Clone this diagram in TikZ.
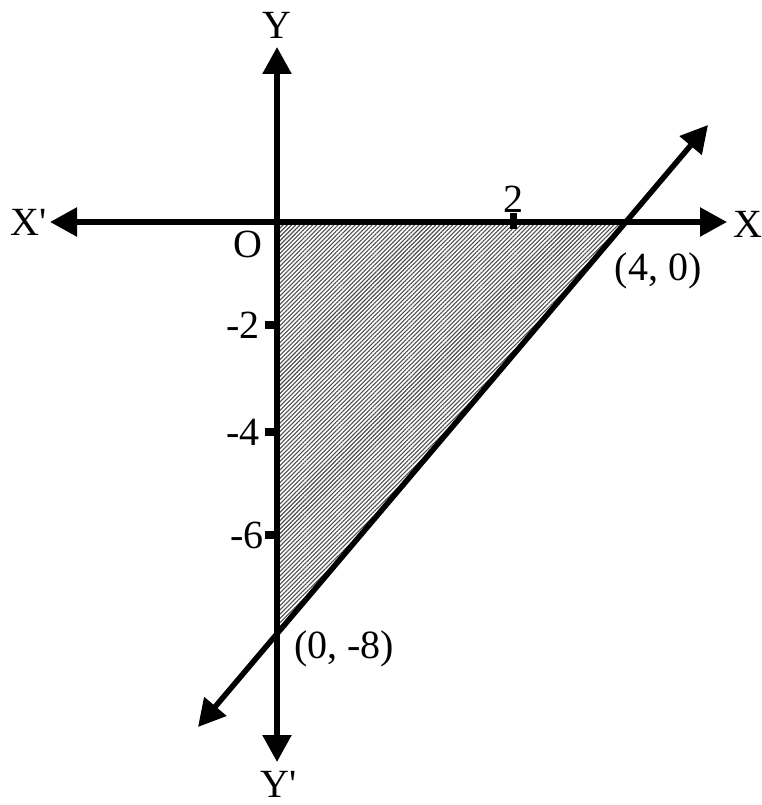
\documentclass[tikz,border=0pt]{standalone}
\usepackage{fontspec}
\setmainfont{Liberation Serif}
\usetikzlibrary{arrows.meta,patterns.meta}
\begin{document}
\begin{tikzpicture}[x=1pt,y=-1pt,
  tip/.tip={Triangle[length=27pt,width=28pt]},
  axisline/.style={line width=5.5pt},
  lbl/.style={font=\fontsize{40}{42}\selectfont, inner sep=0pt},
  tickmark/.style={fill=black}]
\useasboundingbox (0,0) rectangle (761,805);
\coordinate (O) at (277,222);
\coordinate (A) at (626,222);
\coordinate (B) at (277,634);
\coordinate (xl) at (50,222);
\coordinate (xr) at (727,222);
\coordinate (yt) at (277,47);
\coordinate (yb) at (277,762);
\coordinate (ll) at (198,727);
\coordinate (lu) at (708,125);
\fill[pattern={Lines[angle=45,distance=3pt,line width=1.1pt]}, pattern color=black!70] (O) -- (A) -- (B) -- cycle;
\draw[axisline,{tip}-{tip}] (xl) -- (xr);
\draw[axisline,{tip}-{tip}] (yt) -- (yb);
\draw[axisline,{tip}-{tip}] (ll) -- (lu);
\fill[tickmark] (265,321) rectangle (277,329);
\fill[tickmark] (265,428) rectangle (277,436);
\fill[tickmark] (265,531) rectangle (277,539);
\fill[tickmark] (510,213) rectangle (517,229);
\node[lbl] (ly) at (277,25) {Y};
\node[lbl] (lyp) at (279,784) {Y\textquotesingle};
\node[lbl] (lxp) at (29,222) {X\textquotesingle};
\node[lbl] (lx) at (748,224) {X};
\node[lbl] (lo) at (248,244) {O};
\node[lbl] (l2) at (513,199) {2};
\node[lbl] (l40) at (658,271) {(4, 0)};
\node[lbl] (l08) at (344,649) {(0, -8)};
\node[lbl] (lm2) at (243,325) {-2};
\node[lbl] (lm4) at (243,432) {-4};
\node[lbl] (lm6) at (247,535) {-6};
\end{tikzpicture}
\end{document}
